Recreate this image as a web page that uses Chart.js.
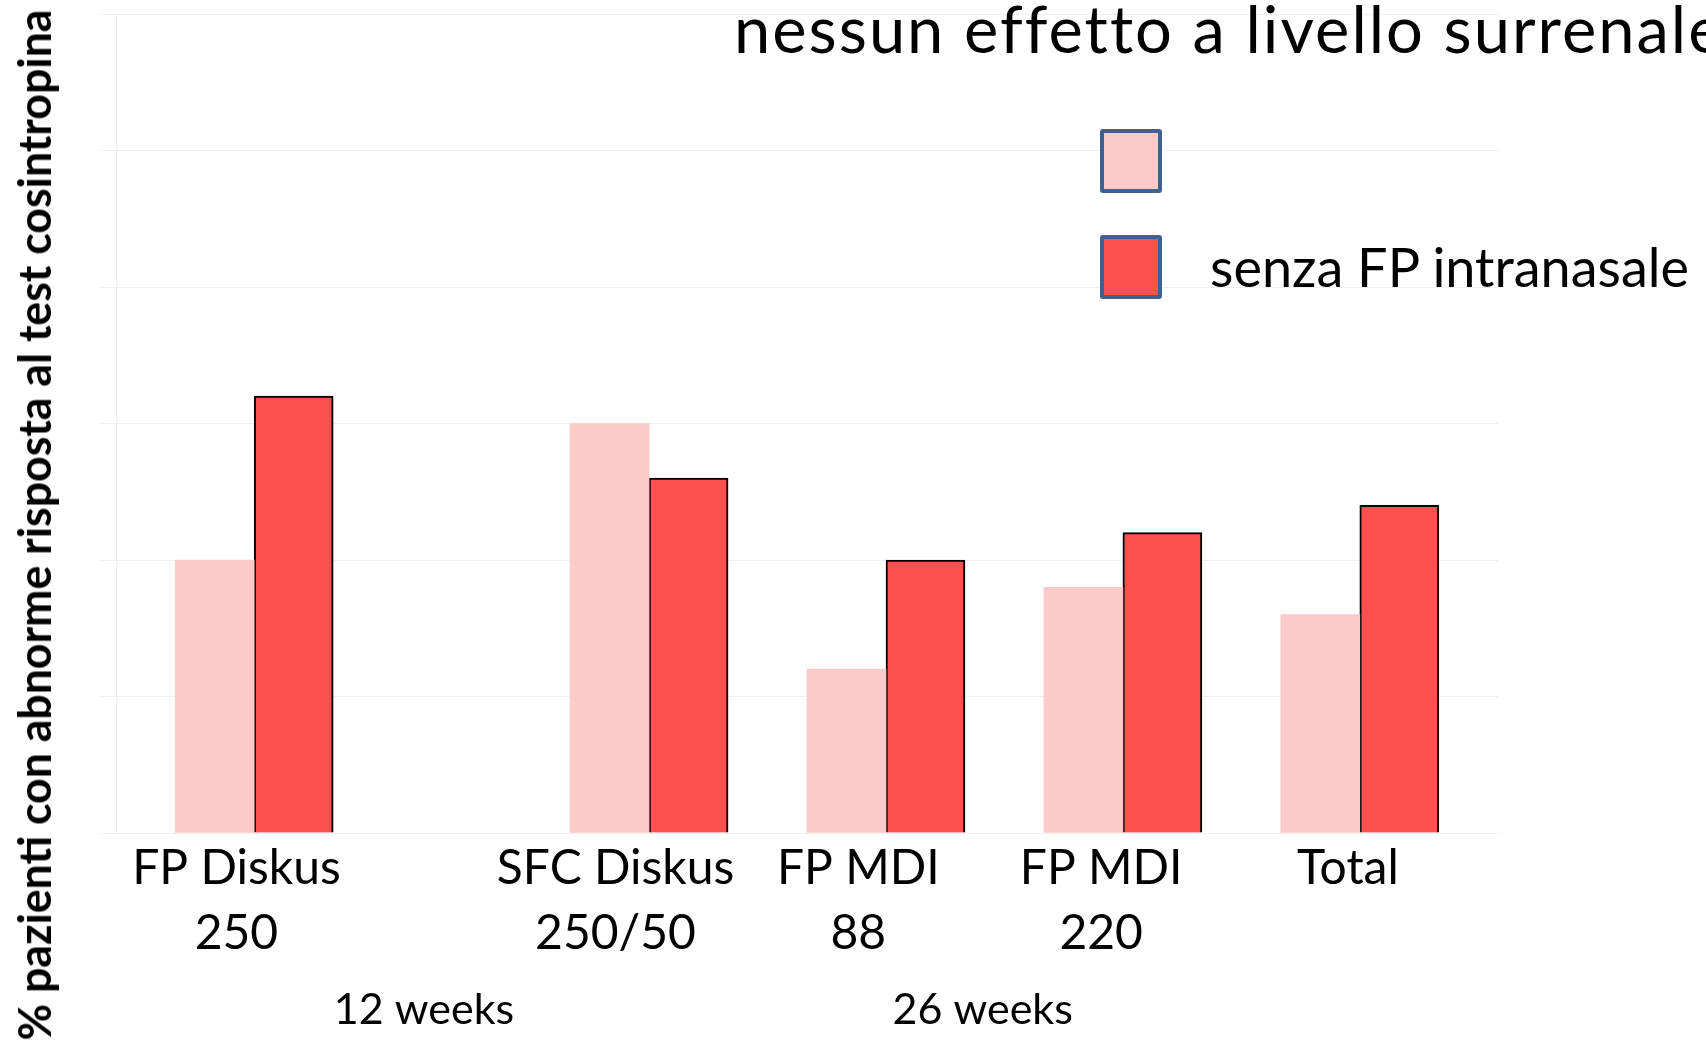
<!DOCTYPE html>
<html>
<head>
<meta charset="utf-8">
<script src="https://cdn.jsdelivr.net/npm/chart.js@4.4.1/dist/chart.umd.min.js"></script>
<style>
html, body { margin: 0; padding: 0; background: #fff; overflow: hidden; }
#wrap { position: relative; width: 1706px; height: 1045px; overflow: hidden; }
#chart { position: absolute; left: 0; top: 0; }
.title { position: absolute; left: 734px; top: -4px; font: 65px/1 Lato, sans-serif; letter-spacing: 2px; white-space: nowrap; color: #000; }
.ytitle { position: absolute; left: 34px; top: 525px; transform: translate(-50%, -50%) rotate(-90deg);
  font: bold 46px/1 Lato, sans-serif; white-space: nowrap; color: #000; }
#legend { position: absolute; left: 1100px; top: 129px; }
.item { display: flex; align-items: center; height: 64px; margin-bottom: 42px; }
.swatch { width: 62px; height: 64px; box-sizing: border-box; border: 4px solid #41608f; border-radius: 3px; }
.item span { margin-left: 48px; font: 54px/1 Lato, sans-serif; white-space: nowrap; color: #000; }
</style>
</head>
<body>
<div id="wrap">
  <canvas id="chart" width="1706" height="1045"></canvas>
  <div class="title">nessun effetto a livello surrenale</div>
  <div class="ytitle">% pazienti con abnorme risposta al test cosintropina</div>
  <div id="legend"></div>
</div>
<script>
// groups on the x axis (linear units), with their labels
const groups = ['FP Diskus 250', 'SFC Diskus 250/50', 'FP MDI 88', 'FP MDI 220', 'Total'];
const groupAt = [3.5, 13.5, 19.5, 25.5, 31.5];
const tickLabels = [['FP Diskus', '250'], ['SFC Diskus', '250/50'], ['FP MDI', '88'], ['FP MDI', '220'], 'Total'];
const tickAt = [3.05, 12.65, 18.8, 24.95, 31.2];
const periodLabels = ['12 weeks', '26 weeks'];
const periodAt = [7.8, 21.95];

// % patients with abnormal cosyntropin response
const seriesNames = ['', 'senza FP intranasale'];
const conFP = [10, 15, 6, 9, 8];
const senzaFP = [16, 13, 10, 11, 12];

const LIGHT = '#fdcaca';
const RED = '#ff5050';
const GRID = '#f0f0f0';

Chart.defaults.font.family = 'Lato, sans-serif';
Chart.defaults.color = '#000';

const toPoints = (vals) => vals.map((v, i) => ({ x: groupAt[i], y: v }));

const chart = new Chart(document.getElementById('chart'), {
    type: 'bar',
    data: {
        datasets: [
            {
                label: seriesNames[0],
                data: toPoints(conFP),
                backgroundColor: LIGHT,
                borderWidth: 0
            },
            {
                label: seriesNames[1],
                data: toPoints(senzaFP),
                backgroundColor: RED,
                borderColor: '#000',
                borderWidth: 2
            }
        ]
    },
    options: {
        responsive: false,
        animation: false,
        devicePixelRatio: 1,
        barThickness: 79,
        // bottom is negative: the week labels sit lower than the axis box allows
        layout: { padding: { left: 100, top: 14, right: 208, bottom: -6 } },
        plugins: {
            legend: { display: false },
            tooltip: { enabled: false }
        },
        scales: {
            x: {
                type: 'linear',
                offset: false,
                min: 0,
                max: 35,
                weight: 0,
                grid: { display: false, drawTicks: false },
                border: { color: GRID, width: 1 },
                afterBuildTicks: (axis) => { axis.ticks = tickAt.map(v => ({ value: v })); },
                ticks: {
                    autoSkip: false,
                    maxRotation: 0,
                    padding: 3,
                    font: { size: 48, lineHeight: 1.35 },
                    callback: (v, i) => tickLabels[i]
                }
            },
            x2: {
                type: 'linear',
                position: 'bottom',
                offset: false,
                min: 0,
                max: 35,
                weight: 1,
                grid: { display: false, drawTicks: false },
                border: { display: false },
                afterBuildTicks: (axis) => { axis.ticks = periodAt.map(v => ({ value: v })); },
                ticks: {
                    autoSkip: false,
                    maxRotation: 0,
                    padding: 15.4,
                    font: { size: 43, lineHeight: 1.2 },
                    callback: (v, i) => periodLabels[i]
                }
            },
            y: {
                min: 0,
                max: 30,
                ticks: { stepSize: 5, display: false },
                grid: { color: GRID, tickLength: 16 },
                border: { color: GRID }
            }
        }
    }
});

// legend built from the datasets
const legendEl = document.getElementById('legend');
chart.data.datasets.forEach(ds => {
    const item = document.createElement('div');
    item.className = 'item';
    const sw = document.createElement('div');
    sw.className = 'swatch';
    sw.style.background = ds.backgroundColor;
    const txt = document.createElement('span');
    txt.textContent = ds.label;
    item.appendChild(sw);
    item.appendChild(txt);
    legendEl.appendChild(item);
});

// squeeze the axis title to the height of the slide, like the condensed original
const yt = document.querySelector('.ytitle');
yt.style.transform = `translate(-50%, -50%) rotate(-90deg) scaleX(${1031 / yt.offsetWidth})`;
</script>
</body>
</html>
